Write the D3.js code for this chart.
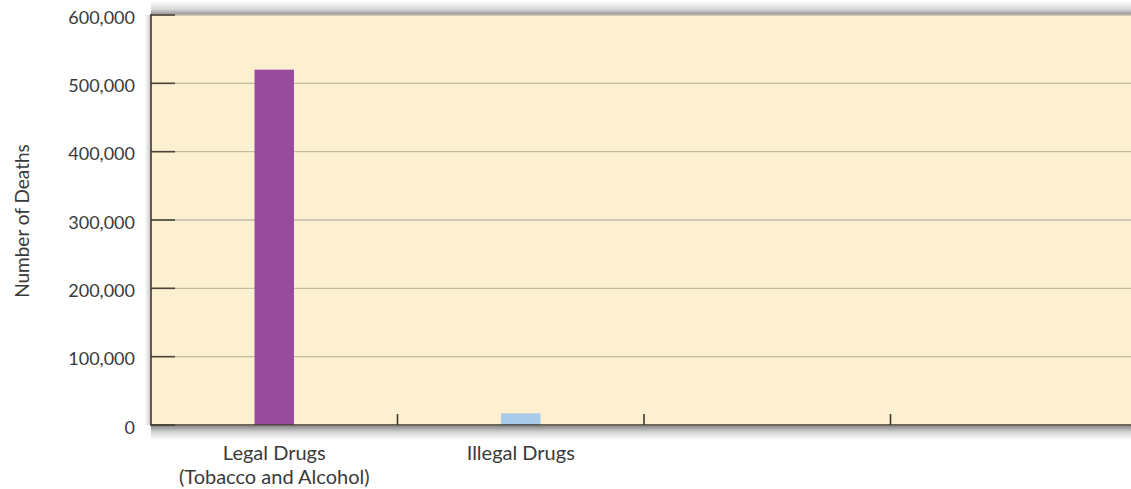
<!DOCTYPE html>
<html><head><meta charset="utf-8">
<script src="https://cdn.jsdelivr.net/npm/d3@7"></script>
<style>body{margin:0;background:#fff}svg{display:block}</style>
</head><body>
<svg id="c" width="1131" height="489"></svg>
<script>
const categories = ["legal", "illegal", "empty1", "empty2"];
const categoryLabels = [["Legal Drugs", "(Tobacco and Alcohol)"], ["Illegal Drugs"], [], []];
const deaths = [520000, 17000, null, null];
const barColors = ["#974b9d", "#a8cbe9", null, null];
const yTicks = [0, 100000, 200000, 300000, 400000, 500000, 600000];

const svg = d3.select("#c");
const W = 1131, H = 489;
const m = {left: 151, top: 15, bottom: 64};
const plotW = 246.5 * 4;
const x = d3.scaleBand().domain(categories).range([m.left, m.left + plotW]).padding(0);
const y = d3.scaleLinear().domain([0, 600000]).range([H - m.bottom, m.top]);
const font = "Lato, 'Open Sans', sans-serif";
const textCol = "#3a3a3a";

const defs = svg.append("defs");
const gTop = defs.append("linearGradient").attr("id","gt").attr("x1",0).attr("x2",0).attr("y1",0).attr("y2",1);
gTop.append("stop").attr("offset","0%").attr("stop-color","#ffffff");
gTop.append("stop").attr("offset","60%").attr("stop-color","#d6d6d6");
gTop.append("stop").attr("offset","100%").attr("stop-color","#8e8e8e");
const gBot = defs.append("linearGradient").attr("id","gb").attr("x1",0).attr("x2",0).attr("y1",0).attr("y2",1);
gBot.append("stop").attr("offset","0%").attr("stop-color","#8a8a8a");
gBot.append("stop").attr("offset","40%").attr("stop-color","#cfcfcf");
gBot.append("stop").attr("offset","100%").attr("stop-color","#ffffff");
const gLeft = defs.append("linearGradient").attr("id","gl").attr("x1",0).attr("x2",1).attr("y1",0).attr("y2",0);
gLeft.append("stop").attr("offset","0%").attr("stop-color","#ffffff");
gLeft.append("stop").attr("offset","100%").attr("stop-color","#c4c4c4");

const y0 = y(0), yTop = y(600000);
// shadows
svg.append("rect").attr("x", m.left).attr("y", yTop - 14).attr("width", W - m.left).attr("height", 14).attr("fill","url(#gt)");
svg.append("rect").attr("x", m.left - 6).attr("y", yTop).attr("width", 6).attr("height", y0 - yTop).attr("fill","url(#gl)");
svg.append("rect").attr("x", m.left).attr("y", y0 + 1).attr("width", W - m.left).attr("height", 14).attr("fill","url(#gb)");

// plot background
svg.append("rect").attr("x", m.left).attr("y", yTop).attr("width", plotW).attr("height", y0 - yTop).attr("fill","#fdf0d1");

// gridlines
svg.append("g").selectAll("line").data(yTicks.filter(d => d > 0)).join("line")
  .attr("x1", m.left).attr("x2", m.left + plotW)
  .attr("y1", d => y(d)).attr("y2", d => y(d))
  .attr("stroke", "#c2bba6").attr("stroke-width", 1.3);

// bars
svg.append("g").selectAll("rect").data(categories.map((c,i)=>({c, v: deaths[i], col: barColors[i]})).filter(d => d.v != null)).join("rect")
  .attr("x", d => x(d.c) + x.bandwidth()/2 - x.bandwidth()*0.08)
  .attr("width", x.bandwidth()*0.16)
  .attr("y", d => y(d.v)).attr("height", d => y0 - y(d.v))
  .attr("fill", d => d.col);

// y axis
const yAxis = svg.append("g").attr("transform", `translate(${m.left},0)`)
  .call(d3.axisLeft(y).tickValues(yTicks).tickFormat(d3.format(",")).tickSize(0).tickPadding(16));
yAxis.select(".domain").remove();
yAxis.selectAll("text").attr("font-family", font).attr("font-size", 18).attr("fill", textCol).attr("dy", "0.45em");
svg.append("g").selectAll("line").data(yTicks).join("line")
  .attr("x1", m.left).attr("x2", m.left + 24).attr("y1", d => y(d)).attr("y2", d => y(d))
  .attr("stroke", "#4a4536").attr("stroke-width", 1.6);
svg.append("line").attr("x1", m.left).attr("x2", m.left).attr("y1", yTop - 1).attr("y2", y0 + 1)
  .attr("stroke", "#3f3a2c").attr("stroke-width", 1.6);

// x axis
svg.append("line").attr("x1", m.left).attr("x2", W).attr("y1", y0).attr("y2", y0)
  .attr("stroke", "#3f3a2c").attr("stroke-width", 1.6);
svg.append("g").selectAll("line").data(categories.slice(1)).join("line")
  .attr("x1", d => x(d)).attr("x2", d => x(d)).attr("y1", y0).attr("y2", y0 - 11)
  .attr("stroke", "#3f3a2c").attr("stroke-width", 1.6);

// category labels (one text per line)
const labelLines = [];
categories.forEach((c, i) => categoryLabels[i].forEach((l, j) => labelLines.push({c, l, j})));
svg.append("g").selectAll("text").data(labelLines).join("text")
  .attr("text-anchor","middle").attr("font-family", font).attr("font-size", 20).attr("fill", textCol)
  .attr("x", d => x(d.c) + x.bandwidth()/2)
  .attr("y", d => y0 + 35 + d.j * 24)
  .text(d => d.l);

// y title
svg.append("text").attr("transform", `translate(29,${(y0+yTop)/2 + 1}) rotate(-90)`)
  .attr("text-anchor","middle").attr("font-family", font).attr("font-size", 19).attr("fill", textCol)
  .text("Number of Deaths");
</script>
</body></html>
